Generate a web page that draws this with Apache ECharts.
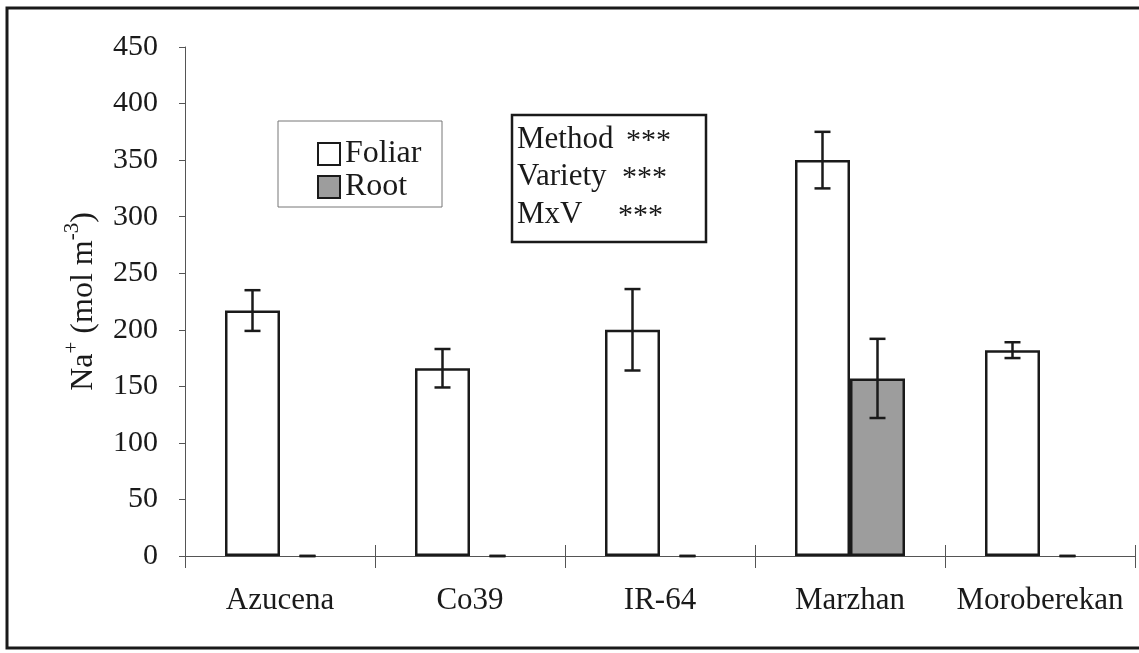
<!DOCTYPE html>
<html>
<head>
<meta charset="utf-8">
<script src="https://cdn.jsdelivr.net/npm/echarts@6/dist/echarts.min.js"></script>
<style>
  html, body { margin: 0; padding: 0; background: #fff; }
  #chart { width: 1139px; height: 653px; }
</style>
</head>
<body>
<div id="chart"></div>
<script>
// Na+ concentration by rice variety and application method
const varieties = ['Azucena', 'Co39', 'IR-64', 'Marzhan', 'Moroberekan'];
const foliarValues = [217, 166, 200, 350, 182];
const foliarErrors = [18, 17, 36, 25, 7];
const rootValues = [0, 0, 0, 157, 0];
const rootErrors = [0, 0, 0, 35, 0];
const yTicks = { min: 0, max: 450, interval: 50 };
const statLines = [['Method', '***'], ['Variety', '***'], ['MxV', '***']];

const SERIF = "'Liberation Serif', 'Times New Roman', serif";
const INK = '#1a1a1a';
const BAR_W = 55;

const chart = echarts.init(document.getElementById('chart'));

function errorBarRenderer(offsetSign) {
  return function (params, api) {
    const cat = api.value(0);
    const mid = api.coord([cat, api.value(1)]);
    const hi = api.coord([cat, api.value(1) + api.value(2)]);
    const lo = api.coord([cat, api.value(1) - api.value(2)]);
    const x = mid[0] + offsetSign * BAR_W / 2;
    const cap = 8;
    const style = { stroke: INK, lineWidth: 2.5 };
    return {
      type: 'group',
      children: [
        { type: 'line', shape: { x1: x, y1: hi[1], x2: x, y2: lo[1] }, style },
        { type: 'line', shape: { x1: x - cap, y1: hi[1], x2: x + cap, y2: hi[1] }, style },
        { type: 'line', shape: { x1: x - cap, y1: lo[1], x2: x + cap, y2: lo[1] }, style }
      ]
    };
  };
}

const statGraphics = [];
statLines.forEach((pair, i) => {
  const y = 140 + i * 37.5;
  statGraphics.push({
    type: 'text', left: 517, top: y - 16, z: 20,
    style: { text: pair[0], font: '31px ' + SERIF, fill: INK }
  });
  statGraphics.push({
    type: 'text', left: [626, 622, 618][i], top: y - 14, z: 20,
    style: { text: pair[1], font: '30px ' + SERIF, fill: INK }
  });
});

chart.setOption({
  animation: false,
  backgroundColor: '#fff',
  grid: { left: 185, right: 4, top: 47, bottom: 97, containLabel: false },
  legend: {
    orient: 'vertical',
    left: 312,
    top: 133,
    itemWidth: 22,
    itemHeight: 22,
    itemGap: 1,
    icon: 'rect',
    textStyle: { fontFamily: SERIF, fontSize: 32, color: INK, padding: [0, 0, 0, 0], lineHeight: 31 },
    data: ['Foliar', 'Root']
  },
  xAxis: [
    {
      type: 'category',
      data: varieties,
      axisLine: { lineStyle: { color: '#555', width: 1 } },
      axisTick: { show: true, interval: 0, length: 12, lineStyle: { color: '#555' } },
      axisLabel: { interval: 0, fontFamily: SERIF, fontSize: 31, color: INK, margin: 29 }
    },
    {
      type: 'category',
      data: varieties,
      position: 'bottom',
      axisLine: { show: false },
      axisTick: { show: true, interval: 0, inside: true, length: 11, lineStyle: { color: '#555' } },
      axisLabel: { show: false }
    }
  ],
  yAxis: {
    type: 'value',
    min: yTicks.min,
    max: yTicks.max,
    interval: yTicks.interval,
    name: '{t|Na}{s|+}{t| (mol m}{s|-3}{t|)}',
    nameLocation: 'middle',
    nameGap: 85,
    nameTextStyle: {
      rich: {
        t: { fontFamily: SERIF, fontSize: 32, color: INK, lineHeight: 38, verticalAlign: 'bottom' },
        s: { fontFamily: SERIF, fontSize: 21, color: INK, lineHeight: 38, verticalAlign: 'top', padding: [0, 0, 14, 0] }
      }
    },
    splitLine: { show: false },
    axisLine: { show: true, lineStyle: { color: '#555', width: 1 } },
    axisTick: { show: true, length: 6, lineStyle: { color: '#555' } },
    axisLabel: { fontFamily: SERIF, fontSize: 30, color: INK, margin: 27 }
  },
  series: [
    {
      name: 'Foliar',
      type: 'bar',
      data: foliarValues,
      barWidth: BAR_W,
      barGap: '0%',
      itemStyle: { color: '#ffffff', borderColor: INK, borderWidth: 2.5 },
      z: 3
    },
    {
      name: 'Root',
      type: 'bar',
      data: rootValues.map(v => v === 0 ? { value: 0, itemStyle: { borderWidth: 0 } } : v),
      barWidth: BAR_W,
      barGap: '0%',
      itemStyle: { color: '#9d9d9d', borderColor: INK, borderWidth: 2.5 },
      z: 3
    },
    {
      type: 'custom',
      renderItem: errorBarRenderer(-1),
      data: foliarValues.map((v, i) => [i, v, foliarErrors[i]]),
      z: 5,
      silent: true
    },
    {
      type: 'custom',
      renderItem: errorBarRenderer(1),
      data: rootValues.map((v, i) => [i, v, rootErrors[i]]),
      z: 5,
      silent: true
    }
  ],
  graphic: [
    {
      type: 'rect', z: 0,
      shape: { x: 7, y: 8, width: 1150, height: 640 },
      style: { fill: 'none', stroke: INK, lineWidth: 3 }
    },
    {
      type: 'rect', z: 1,
      shape: { x: 278, y: 121, width: 164, height: 86 },
      style: { fill: '#fff', stroke: '#777', lineWidth: 1 }
    },
    {
      type: 'rect', z: 19,
      shape: { x: 512, y: 115, width: 194, height: 127 },
      style: { fill: '#fff', stroke: INK, lineWidth: 2.5 }
    }
  ].concat(statGraphics)
});
</script>
</body>
</html>
